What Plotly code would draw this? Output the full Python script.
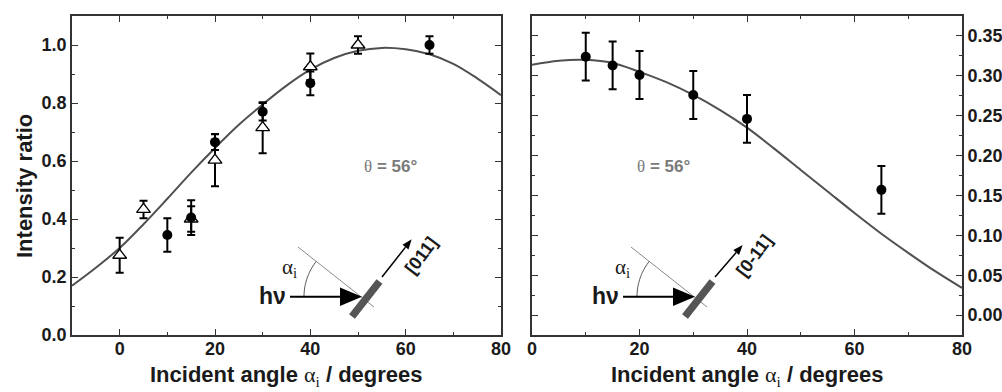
import math
import plotly.graph_objects as go

# ---- data ----------------------------------------------------------------
# Left panel: [011] azimuth
left_circle_x = [10, 15, 20, 30, 40, 65]
left_circle_y = [0.345, 0.405, 0.665, 0.770, 0.868, 1.000]
left_circle_err = [0.058, 0.060, 0.027, 0.030, 0.041, 0.030]

left_tri_x = [0, 5, 15, 20, 30, 40, 50]
left_tri_y = [0.275, 0.433, 0.400, 0.603, 0.715, 0.925, 1.000]
left_tri_err = [0.060, 0.030, 0.044, 0.090, 0.088, 0.046, 0.030]

left_fit_x = [-10, -5, 0, 5, 10, 15, 20, 25, 30, 35, 40, 45, 50, 55, 60, 65, 70, 75, 80]
left_fit_y = [0.170, 0.232, 0.300, 0.382, 0.470, 0.560, 0.645, 0.725, 0.795, 0.860,
              0.915, 0.955, 0.980, 0.990, 0.985, 0.968, 0.935, 0.885, 0.827]

# Right panel: [0-11] azimuth
right_circle_x = [10, 15, 20, 30, 40, 65]
right_circle_y = [0.324, 0.313, 0.301, 0.276, 0.246, 0.157]
right_circle_err = [0.030, 0.030, 0.030, 0.030, 0.030, 0.030]

right_fit_x = [0, 5, 10, 15, 20, 25, 30, 35, 40, 45, 50, 55, 60, 65, 70, 75, 80]
right_fit_y = [0.314, 0.319, 0.320, 0.316, 0.305, 0.292, 0.276, 0.257, 0.235, 0.209,
               0.182, 0.155, 0.128, 0.102, 0.078, 0.055, 0.034]

x_ticks = [0, 20, 40, 60, 80]
theta_label = "56°"
direction_labels = ["[011]", "[0-11]"]

# ---- figure geometry (pixels) --------------------------------------------
W, H = 1002, 392
LEFT_PX = (72, 501)
RIGHT_PX = (532, 962)
TOP_PX, BOTTOM_PX = 16, 335


def px(x):
    return x / W


def py(y):
    return 1 - y / H


SANS = "Liberation Sans, Arial, sans-serif"
SERIF = "Liberation Serif, Times New Roman, serif"
AXIS_COLOR = "#333333"
CURVE_COLOR = "#505050"
TEXT_COLOR = "#1a1a1a"

fig = go.Figure()

# fitted curves
fig.add_trace(go.Scatter(x=left_fit_x, y=left_fit_y, mode="lines",
                         line=dict(color=CURVE_COLOR, width=2, shape="spline"),
                         xaxis="x", yaxis="y", showlegend=False, hoverinfo="skip"))
fig.add_trace(go.Scatter(x=right_fit_x, y=right_fit_y, mode="lines",
                         line=dict(color=CURVE_COLOR, width=2, shape="spline"),
                         xaxis="x2", yaxis="y2", showlegend=False, hoverinfo="skip"))

err_style = dict(type="data", color="black", thickness=2, width=4)

# open triangles
fig.add_trace(go.Scatter(x=left_tri_x, y=left_tri_y, mode="markers",
                         marker=dict(symbol="triangle-up", size=12, color="white",
                                     line=dict(color="black", width=1.3)),
                         error_y=dict(array=left_tri_err, **err_style),
                         xaxis="x", yaxis="y", showlegend=False))
# filled circles
fig.add_trace(go.Scatter(x=left_circle_x, y=left_circle_y, mode="markers",
                         marker=dict(symbol="circle", size=10, color="black"),
                         error_y=dict(array=left_circle_err, **err_style),
                         xaxis="x", yaxis="y", showlegend=False))
fig.add_trace(go.Scatter(x=right_circle_x, y=right_circle_y, mode="markers",
                         marker=dict(symbol="circle", size=10, color="black"),
                         error_y=dict(array=right_circle_err, **err_style),
                         xaxis="x2", yaxis="y2", showlegend=False))

tick_font = dict(family=SANS, size=18, color=TEXT_COLOR, weight="bold")
minor_base = dict(ticks="inside", ticklen=3, tickwidth=1.2, tickcolor=AXIS_COLOR,
                  showgrid=False)
common_axis = dict(showline=True, linecolor=AXIS_COLOR, linewidth=1.6, mirror="ticks",
                   ticks="inside", ticklen=6, tickwidth=1.4, tickcolor=AXIS_COLOR,
                   showgrid=False, zeroline=False, tickfont=tick_font, automargin=False)

y_dom = [py(BOTTOM_PX), py(TOP_PX)]

fig.update_layout(
    width=W, height=H,
    margin=dict(l=0, r=0, t=0, b=0, autoexpand=False),
    paper_bgcolor="white", plot_bgcolor="white",
    xaxis=dict(domain=[px(LEFT_PX[0]), px(LEFT_PX[1])], range=[-10, 80],
               tickvals=x_ticks, anchor="y", ticklabelstandoff=-3,
               minor=dict(dtick=10, tick0=0, **minor_base), **common_axis),
    yaxis=dict(domain=y_dom, range=[0, 1.1], dtick=0.2, tick0=0, tickformat=".1f",
               anchor="x", minor=dict(dtick=0.1, tick0=0, **minor_base), **common_axis),
    xaxis2=dict(domain=[px(RIGHT_PX[0]), px(RIGHT_PX[1])], range=[0, 80],
                tickvals=x_ticks, anchor="y2", ticklabelstandoff=-3,
                minor=dict(dtick=10, tick0=0, **minor_base), **common_axis),
    yaxis2=dict(domain=y_dom, range=[-0.025, 0.375], dtick=0.05, tick0=0,
                tickformat=".2f", side="right", anchor="x2", ticklabelstandoff=0,
                minor=dict(dtick=0.025, tick0=0, **minor_base), **common_axis),
)

# ---- axis titles -----------------------------------------------------------
title_font = dict(family=SANS, size=22, color=TEXT_COLOR)
x_title = ("<b>Incident angle </b><span style='font-family:Liberation Serif'>"
           "α<sub>i</sub></span><b> / degrees</b>")
annotations = [
    dict(text="<b>Intensity ratio</b>", x=px(24), y=py(186), textangle=-90,
         font=title_font),
    dict(text=x_title, x=px(286), y=py(376), font=title_font),
    dict(text=x_title, x=px(747), y=py(376), font=title_font),
]

# theta labels
theta_text = ("<span style='font-family:Liberation Serif'>θ</span>"
              f"<b> = {theta_label}</b>")
for cx in (390, 663):
    annotations.append(dict(text=theta_text, x=px(cx), y=py(166),
                            font=dict(family=SANS, size=17, color="#7a7a7a")))

# ---- geometry sketches (incidence diagram) --------------------------------
shapes = []


def pline(x0, y0, x1, y1, color, width):
    shapes.append(dict(type="line", xref="paper", yref="paper",
                       x0=px(x0), y0=py(y0), x1=px(x1), y1=py(y1),
                       line=dict(color=color, width=width)))


def ppath(points, color, close=True, width=0, fill=True):
    d = "M " + " L ".join(f"{px(a):.5f},{py(b):.5f}" for a, b in points)
    if close:
        d += " Z"
    shapes.append(dict(type="path", xref="paper", yref="paper", path=d,
                       fillcolor=color if fill else "rgba(0,0,0,0)",
                       line=dict(color=color, width=width)))


for i, dx in enumerate((0, 333)):
    # reference line (thin)
    pline(298 + dx, 247, 374 + dx, 307, "#8a8a8a", 1)
    # angle arc between beam and reference line
    cx, cy, r = 361 + dx, 296.7, 57
    arc = []
    for k in range(0, 21):
        a = math.radians(180 + 38.3 * k / 20)
        arc.append((cx + r * math.cos(a), cy + r * math.sin(a)))
    ppath(arc, "#555555", close=False, width=1, fill=False)
    # incoming beam
    pline(290 + dx, 296.7, 343 + dx, 296.7, "black", 2)
    ppath([(340 + dx, 287.5), (340 + dx, 306), (362 + dx, 296.7)], "black")
    # sample
    pline(352 + dx, 316.5, 379.5 + dx, 281.5, "#555555", 7.5)
    # crystal direction arrow
    tip = (411.7 + dx, 239.3) if i == 0 else (742.7, 245.0)
    start = (382 + dx, 277)
    ux, uy = tip[0] - start[0], tip[1] - start[1]
    L = math.hypot(ux, uy)
    ux, uy = ux / L, uy / L
    hl, hw = 10, 3.8
    bx, by = tip[0] - ux * hl, tip[1] - uy * hl
    pline(start[0], start[1], bx, by, "black", 1.5)
    ppath([tip, (bx - uy * hw, by + ux * hw), (bx + uy * hw, by - ux * hw)], "black")
    # labels
    annotations.append(dict(text="<b>hν</b>", x=px(272 + dx), y=py(296),
                            font=dict(family=SANS, size=23, color=TEXT_COLOR)))
    annotations.append(dict(text="α<sub>i</sub>", x=px(289 + dx), y=py(268),
                            font=dict(family=SERIF, size=21, color=TEXT_COLOR)))
    annotations.append(dict(text=f"<b>{direction_labels[i]}</b>",
                            x=px(421 + dx), y=py(256), textangle=-53,
                            font=dict(family=SANS, size=18, color=TEXT_COLOR)))

for a in annotations:
    a.setdefault("xref", "paper")
    a.setdefault("yref", "paper")
    a.setdefault("showarrow", False)
    a.setdefault("xanchor", "center")
    a.setdefault("yanchor", "middle")

fig.update_layout(annotations=annotations, shapes=shapes)

fig.write_html("out.html")
